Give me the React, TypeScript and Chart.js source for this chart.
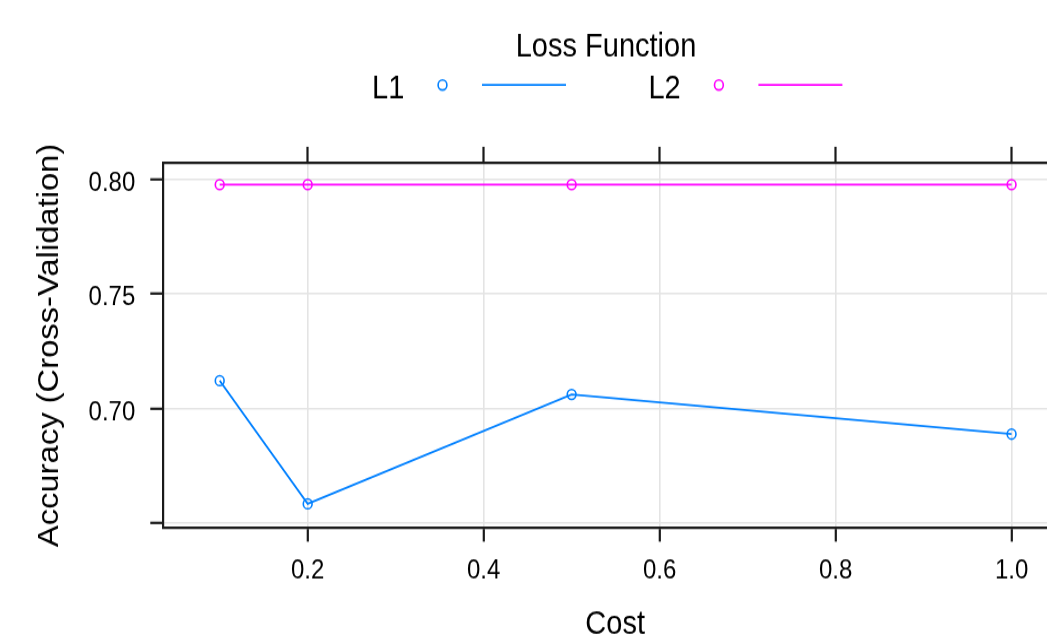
import React, { useEffect, useRef } from "react";
import { Chart, registerables } from "chart.js";

Chart.register(...registerables);

// ---- data ----
const cost = [0.1, 0.2, 0.5, 1.0];
const seriesNames = ["L1", "L2"];
const l1Accuracy = [0.7122, 0.6585, 0.7062, 0.6889];
const l2Accuracy = [0.7977, 0.7977, 0.7977, 0.7977];
const seriesColors = ["#0080ff", "#ff00ff"];

const xTicks = [0.2, 0.4, 0.6, 0.8, 1.0];
const xTickLabels = ["0.2", "0.4", "0.6", "0.8", "1.0"];
const yTicks = [0.65, 0.7, 0.75, 0.8];
const yTickLabels = ["", "0.70", "0.75", "0.80"];

const xTitle = "Cost";
const yTitle = "Accuracy (Cross-Validation)";
const legendTitle = "Loss Function";

// ---- styling / layout ----
const FONT = '"Liberation Sans", Arial, sans-serif';
const TEXT = "#000000";
const FRAME = "#1a1a1a";
const GRID = "#e4e4e4";
const CANVAS_W = 1080;
const CANVAS_H = 570; // stretched vertically to 644 by CSS

const findLabel = (ticks: number[], labels: string[], v: number) => {
  const i = ticks.findIndex((t) => Math.abs(t - v) < 1e-9);
  return i >= 0 ? labels[i] : "";
};

const latticeKey = {
  id: "latticeKey",
  afterDraw(chart: any) {
    const ctx = chart.ctx;
    ctx.save();
    ctx.fillStyle = TEXT;
    ctx.font = `29px ${FONT}`;
    ctx.textAlign = "center";
    ctx.textBaseline = "alphabetic";
    ctx.fillText(legendTitle, 606, 49.6);
    chart.data.datasets.forEach((ds: any, i: number) => {
      const x0 = 372 + i * 276.4;
      const cy = 75.2;
      ctx.textAlign = "left";
      ctx.fillStyle = TEXT;
      ctx.fillText(ds.label, x0, 86.7);
      ctx.strokeStyle = ds.borderColor;
      ctx.lineWidth = 1.6;
      ctx.beginPath();
      ctx.arc(x0 + 70.5, cy, 4.4, 0, Math.PI * 2);
      ctx.stroke();
      ctx.lineWidth = 1.7;
      ctx.beginPath();
      ctx.moveTo(x0 + 110, cy);
      ctx.lineTo(x0 + 194, cy);
      ctx.stroke();
    });
    ctx.restore();
  },
};

export default function App() {
  const ref = useRef<HTMLCanvasElement | null>(null);

  useEffect(() => {
    if (!ref.current) return;
    const series = [l1Accuracy, l2Accuracy];
    const chart = new Chart(ref.current, {
      type: "line",
      data: {
        datasets: series.map((vals, i) => ({
          label: seriesNames[i],
          data: cost.map((c, j) => ({ x: c, y: vals[j] })),
          borderColor: seriesColors[i],
          backgroundColor: "rgba(0,0,0,0)",
          borderWidth: 1.7,
          pointStyle: "circle",
          pointRadius: 4.4,
          pointBorderWidth: 1.6,
          pointBackgroundColor: "rgba(0,0,0,0)",
          pointBorderColor: seriesColors[i],
          tension: 0,
          xAxisID: "x",
          yAxisID: "y",
        })),
      },
      options: {
        animation: false,
        responsive: false,
        maintainAspectRatio: false,
        layout: { padding: { left: 0, right: 13, top: 0, bottom: 0 } },
        plugins: {
          legend: { display: false },
          title: { display: false },
          tooltip: { enabled: false },
        },
        scales: {
          x: {
            type: "linear",
            position: "bottom",
            min: 0.0359,
            max: 1.063,
            afterBuildTicks: (s: any) => {
              s.ticks = xTicks.map((v) => ({ value: v }));
            },
            afterFit: (s: any) => {
              s.height = 103;
            },
            grid: {
              color: GRID,
              lineWidth: 1.6,
              drawTicks: true,
              tickColor: FRAME,
              tickWidth: 2.2,
              tickLength: 12.4,
            },
            border: { display: true, color: FRAME, width: 2.2 },
            ticks: {
              autoSkip: false,
              maxRotation: 0,
              padding: 11.6,
              color: TEXT,
              font: { family: FONT, size: 24 },
              callback: (v: any) => findLabel(xTicks, xTickLabels, Number(v)),
            },
            title: {
              display: true,
              text: xTitle,
              color: TEXT,
              font: { family: FONT, size: 29 },
              padding: { top: 0, bottom: 0 },
            },
          },
          x2: {
            type: "linear",
            position: "top",
            min: 0.0359,
            max: 1.063,
            afterBuildTicks: (s: any) => {
              s.ticks = xTicks.map((v) => ({ value: v }));
            },
            afterFit: (s: any) => {
              s.height = 144.5;
            },
            grid: {
              drawOnChartArea: false,
              drawTicks: true,
              tickColor: FRAME,
              tickWidth: 2.2,
              tickLength: 14.6,
            },
            border: { display: true, color: FRAME, width: 2.2 },
            ticks: { display: false },
          },
          y: {
            type: "linear",
            position: "left",
            min: 0.6481,
            max: 0.807,
            afterBuildTicks: (s: any) => {
              s.ticks = yTicks.map((v) => ({ value: v }));
            },
            afterFit: (s: any) => {
              s.width = 163.3;
            },
            grid: {
              color: GRID,
              lineWidth: 1.6,
              drawTicks: true,
              tickColor: FRAME,
              tickWidth: 2.2,
              tickLength: 13,
            },
            border: { display: true, color: FRAME, width: 2.2 },
            ticks: {
              autoSkip: false,
              padding: 15,
              labelOffset: 3.3,
              color: TEXT,
              font: { family: FONT, size: 24 },
              callback: (v: any) => findLabel(yTicks, yTickLabels, Number(v)),
            },
            title: {
              display: true,
              text: yTitle,
              color: TEXT,
              font: { family: FONT, size: 29 },
              padding: { top: 32.6, bottom: 0 },
            },
          },
        },
      } as any,
      plugins: [latticeKey],
    });
    return () => chart.destroy();
  }, []);

  return (
    <div
      style={{
        position: "fixed",
        left: 0,
        top: 0,
        width: 1047,
        height: 644,
        overflow: "hidden",
        background: "#ffffff",
      }}
    >
      <canvas
        ref={ref}
        width={CANVAS_W}
        height={CANVAS_H}
        style={{ width: `${CANVAS_W}px`, height: "644px", display: "block" }}
      />
    </div>
  );
}
